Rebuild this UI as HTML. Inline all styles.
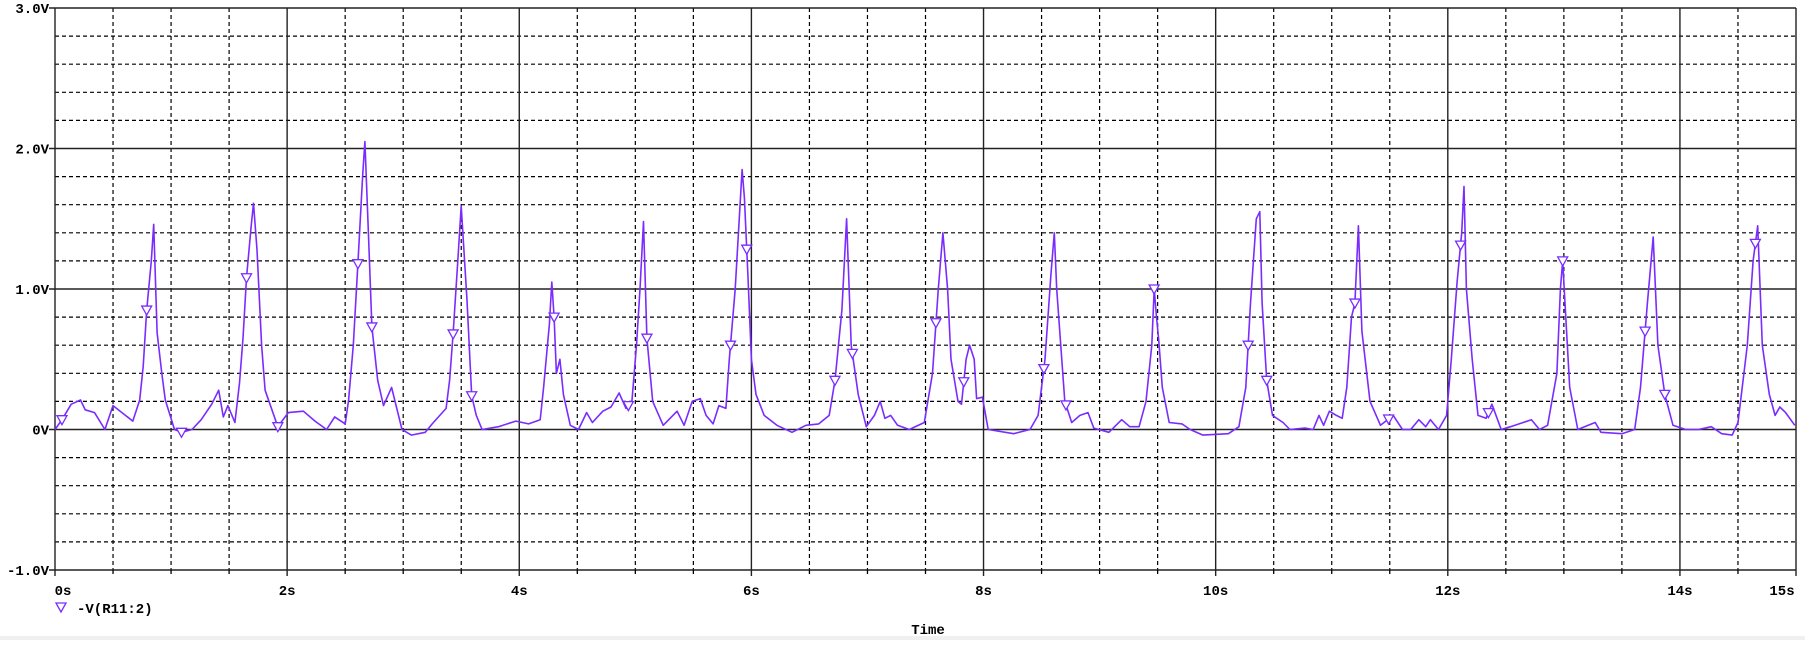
<!DOCTYPE html>
<html><head><meta charset="utf-8"><style>
body{margin:0;background:#fff;width:1805px;height:640px;overflow:hidden}
svg text{font-family:"Liberation Mono",monospace;font-weight:bold;font-size:14px;fill:#000}
</style></head><body>
<svg id="chart" width="1805" height="640" xmlns="http://www.w3.org/2000/svg">
<rect x="0" y="636" width="1805" height="4" fill="#f0f0f0"/>
<g id="grid"></g>
<g id="axes"></g>
<g id="series"></g>
<g>
<path d="M56 603 L66 603 L61 612 Z" fill="none" stroke="#7a2cff" stroke-width="1.3"/>
<text x="77" y="613">-V(R11:2)</text>
</g>
<text x="928" y="634" text-anchor="middle">Time</text>
</svg>
<script>
const times=[0,0.06,0.14,0.22,0.26,0.34,0.43,0.5,0.67,0.73,0.76,0.79,0.83,0.85,0.88,0.92,0.95,1.03,1.09,1.18,1.26,1.35,1.41,1.45,1.49,1.55,1.59,1.62,1.65,1.69,1.71,1.74,1.78,1.81,1.92,2.01,2.14,2.24,2.34,2.41,2.5,2.53,2.57,2.61,2.65,2.67,2.7,2.73,2.78,2.83,2.9,2.99,3.07,3.19,3.25,3.37,3.4,3.43,3.47,3.5,3.55,3.59,3.63,3.68,3.82,
3.97,4.08,4.18,4.21,4.26,4.28,4.3,4.32,4.35,4.38,4.44,4.51,4.58,4.63,4.72,4.79,4.86,4.92,4.97,5.01,5.04,5.07,5.1,5.15,5.24,5.36,5.42,5.49,5.56,5.61,5.67,5.72,5.78,5.81,5.86,5.92,5.94,5.97,6.0,6.04,6.11,6.22,6.35,6.47,6.58,6.67,6.72,6.78,6.82,6.86,6.92,6.99,7.06,7.11,7.15,7.2,7.26,7.36,7.49,7.56,7.61,7.65,7.69,7.72,7.78,7.81,7.85,7.88,7.92,7.94,7.99,8.04,8.26,8.4,8.47,8.53,8.58,8.61,8.63,8.7,8.76,8.83,8.9,8.95,9.08,9.19,9.26,9.34,9.4,9.45,9.47,9.49,9.51,9.54,9.6,9.71,9.78,9.89,10.11,10.2,10.26,10.3,10.35,10.38,10.4,10.44,10.49,10.58,10.64,10.77,10.84,10.89,10.93,10.98,11.04,11.09,11.13,11.17,11.2,11.23,11.26,11.33,11.42,11.53,11.61,11.68,11.75,11.81,11.85,11.92,11.99,12.03,12.08,12.12,12.14,12.16,12.21,12.26,12.33,12.38,12.46,12.54,12.65,12.72,12.79,12.86,12.94,12.97,12.99,13.01,13.05,13.12,13.21,13.27,13.32,13.5,13.61,13.66,13.72,13.77,13.81,13.87,13.94,14.05,14.16,14.27,14.36,14.45,14.5,14.58,14.63,14.67,14.71,14.77,14.82,14.86,14.91,14.99];
const volts=[0,0.07,0.18,0.21,0.14,0.12,0.0,0.17,0.06,0.21,0.45,0.85,1.2,1.46,0.69,0.4,0.21,0.0,-0.02,0.0,0.07,0.18,0.28,0.09,0.17,0.05,0.33,0.65,1.08,1.45,1.61,1.28,0.6,0.28,0.02,0.12,0.13,0.06,0.0,0.09,0.04,0.21,0.6,1.18,1.8,2.05,1.4,0.73,0.35,0.17,0.3,0.0,-0.04,-0.02,0.04,0.15,0.35,0.68,1.2,1.59,0.92,0.24,0.1,0.0,0.02,
0.06,0.04,0.07,0.3,0.75,1.05,0.8,0.4,0.5,0.25,0.03,0.0,0.12,0.05,0.13,0.16,0.26,0.15,0.2,0.6,1.0,1.48,0.65,0.2,0.03,0.13,0.03,0.2,0.22,0.1,0.04,0.17,0.15,0.5,1.0,1.85,1.65,1.1,0.5,0.25,0.1,0.03,-0.02,0.03,0.04,0.1,0.35,0.85,1.5,0.6,0.25,0.02,0.1,0.2,0.08,0.1,0.03,0.0,0.05,0.4,1.0,1.4,1.0,0.5,0.2,0.18,0.5,0.6,0.5,0.22,0.23,0.0,-0.03,0.0,0.1,0.5,1.1,1.4,1.0,0.2,0.05,0.1,0.12,0.01,-0.02,0.07,0.02,0.02,0.2,0.6,1.0,0.8,0.63,0.3,0.05,0.04,0.0,-0.04,-0.03,0.02,0.3,0.9,1.5,1.55,0.9,0.35,0.1,0.05,0.0,0.01,0.0,0.1,0.03,0.13,0.1,0.08,0.3,0.8,0.9,1.45,0.7,0.2,0.03,0.1,0.0,0.0,0.07,0.02,0.07,0.0,0.1,0.5,1.05,1.4,1.73,1.0,0.5,0.1,0.08,0.18,0.0,0.02,0.05,0.07,0.0,0.03,0.4,1.0,1.2,0.9,0.3,0.0,0.03,0.05,-0.02,-0.03,0.0,0.3,0.9,1.37,0.6,0.25,0.03,0.0,0.0,0.02,-0.03,-0.04,0.05,0.6,1.2,1.45,0.6,0.25,0.1,0.16,0.12,0.03];
const markerTimes=[0.06,0.79,1.09,1.65,1.92,2.61,2.73,3.43,3.59,4.3,4.94,5.1,5.82,5.96,6.72,6.87,7.59,7.83,8.52,8.71,9.47,10.28,10.44,11.2,11.49,12.11,12.35,12.99,13.7,13.87,14.65];
const yTicks=["3.0V","2.0V","1.0V","0V","-1.0V"];
const yTickVals=[3,2,1,0,-1];
const xTickVals=[0,2,4,6,8,10,12,14,15];
const xTickLabels=["0s","2s","4s","6s","8s","10s","12s","14s","15s"];
const X0=55,X1=1796,Y0=8,Y1=570;
const xs=t=>X0+(t/15)*(X1-X0);
const ys=v=>Y1-((v+1)/4)*(Y1-Y0);
const NS="http://www.w3.org/2000/svg";
function mk(tag,parent,attrs){const e=document.createElementNS(NS,tag);for(const k in attrs)e.setAttribute(k,attrs[k]);parent.appendChild(e);return e;}
const grid=document.getElementById('grid'),axes=document.getElementById('axes'),ser=document.getElementById('series');
for(let i=1;i<20;i++){const v=-1+i*0.2;if(i%5===0)continue;
 const l=mk('line',grid,{x1:X0,x2:X1,y1:ys(v),y2:ys(v),stroke:'#000','stroke-width':1.2,'stroke-dasharray':'4,3'});
 }
for(let i=1;i<30;i++){const t=i*0.5;if(i%4===0)continue;
 const l=mk('line',grid,{x1:xs(t),x2:xs(t),y1:Y0,y2:Y1,stroke:'#000','stroke-width':1.2,'stroke-dasharray':'4,3'});
 
 const tk=mk('line',axes,{x1:xs(t),x2:xs(t),y1:Y1,y2:Y1+4,stroke:'#000','stroke-width':1.3});
 }
yTickVals.forEach((v,i)=>{
 const l=mk('line',grid,{x1:X0-6,x2:X1,y1:ys(v),y2:ys(v),stroke:'#222','stroke-width':1.4});
 
 const tx=mk('text',axes,{x:X0-6,y:ys(v)+5,'text-anchor':'end'});tx.textContent=yTicks[i];
 });
xTickVals.forEach((t,i)=>{
 const l=mk('line',grid,{x1:xs(t),x2:xs(t),y1:Y0,y2:Y1+6,stroke:'#222','stroke-width':1.4});
 
 const tx=mk('text',axes,{x:xs(t)+(i===xTickVals.length-1?-14:(i===0?8:0)),y:595,'text-anchor':'middle'});tx.textContent=xTickLabels[i];
 });
let d='';times.forEach((t,i)=>{d+=(i?'L':'M')+xs(t).toFixed(1)+' '+ys(volts[i]).toFixed(1)+' ';});
const p=mk('path',ser,{d:d,fill:'none',stroke:'#7a2cff','stroke-width':1.6,'stroke-linejoin':'round'});

function interp(t){for(let i=1;i<times.length;i++){if(t<=times[i]){const a=(t-times[i-1])/(times[i]-times[i-1]);return volts[i-1]+a*(volts[i]-volts[i-1]);}}return volts[volts.length-1];}
markerTimes.forEach(t=>{const x=xs(t),y=ys(interp(t));
 const m=mk('path',ser,{d:`M${x-5} ${y-4} L${x+5} ${y-4} L${x} ${y+5} Z`,fill:'#fff',stroke:'#7a2cff','stroke-width':1.3});
 });
</script>
</body></html>
